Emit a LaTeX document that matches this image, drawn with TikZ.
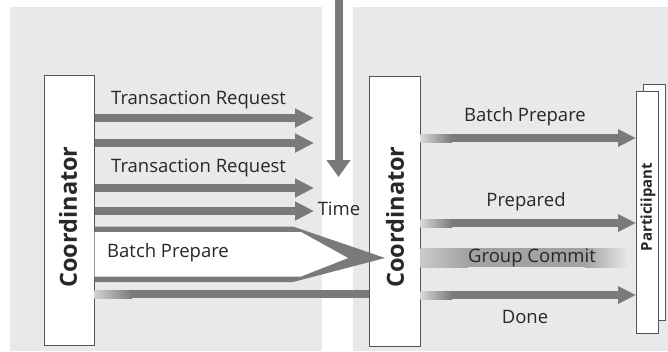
\documentclass[tikz,border=0pt]{standalone}
\usepackage{fontspec}
\setmainfont{Open Sans}
\usetikzlibrary{positioning}
\usetikzlibrary{arrows.meta}
\definecolor{panelgray}{RGB}{233,233,233}
\definecolor{arrowgray}{RGB}{122,122,122}
\definecolor{edgegray}{RGB}{85,85,85}
\definecolor{textgray}{RGB}{40,40,40}

\begin{document}
\begin{tikzpicture}[x=1pt,y=-1pt,
  box/.style={draw=edgegray, fill=white, line width=1pt, inner sep=0pt},
  boxtext/.style={rotate=90, text=textgray, font=\bfseries\fontsize{23.5}{26}\selectfont, inner sep=0pt},
  fatarrow/.style={draw=arrowgray, line width=8pt, -{Triangle[length=19pt,width=18pt]}},
  lbl/.style={text=textgray, font=\fontsize{18.5}{22}\selectfont, inner sep=0pt}]
\useasboundingbox (0,0) rectangle (668,351);

% two panels with a white gap
\fill[panelgray] (10,7) rectangle (322,351);
\fill[panelgray] (353,7) rectangle (668,351);

% Time arrow
\coordinate (timetop) at (338.5,0);
\coordinate (timetip) at (338.5,177);
\draw[draw=arrowgray, line width=8pt, -{Triangle[length=17pt,width=23pt]}] (timetop) -- (timetip);
\node[lbl] (time) at (339,209) {Time};

% boxes
\node[box, minimum width=50pt, minimum height=270pt] (coordL) at (69,210) {};
\node[box, minimum width=51pt, minimum height=270pt] (coordR) at (394.5,211) {};
\node[box, minimum width=22pt, minimum height=236pt] (partB) at (654,202) {};
\node[box, minimum width=22pt, minimum height=242pt] (partF) at (647,212) {};
\node[boxtext] (coordLtext) at (68,217) {Coordinator};
\node[boxtext] (coordRtext) at (395,217) {Coordinator};
\node[boxtext, font=\bfseries\fontsize{15}{17}\selectfont] (parttext) at (648,207) {Particiipant};

% transaction requests
\foreach \y/\n in {118/a,143/b,188/c,211/d}{
  \coordinate (req\n) at (314,\y);
  \draw[fatarrow] (coordL.east |- req\n) -- (req\n);
}
\node[lbl, anchor=west] (reqlabA) at (111,100) {Transaction Request};
\node[lbl, anchor=west] (reqlabB) at (111,168) {Transaction Request};

% batch prepare funnel
\coordinate (funneltip) at (385,258);
\fill[arrowgray] (coordL.east |- 0,226.5) -- (293,226.5) -- (funneltip) -- (293,282) -- (coordL.east |- 0,282) -- cycle;
\fill[white] (coordL.east |- 0,232) -- (301,232) -- (348,258) -- (301,276.5) -- (coordL.east |- 0,276.5) -- cycle;
\node[lbl, anchor=west] (batchL) at (107,253) {Batch Prepare};

% long bottom bar into the second coordinator
\shade[left color=arrowgray!35, right color=arrowgray] (coordL.east |- 0,290) rectangle (132,298);
\fill[arrowgray] (132,290) rectangle (coordR.west |- 0,298);

% messages to the participant
\foreach \y/\n in {138/prep,223/ack,295/done}{
  \coordinate (msg\n) at (partF.west |- 0,\y);
  \shade[left color=arrowgray!30, right color=arrowgray] (coordR.east |- 0,\y-4) rectangle (452,\y+4);
  \fill[arrowgray] (452,\y-4) rectangle (619,\y+4);
  \fill[arrowgray] (618,\y-9) -- (msg\n) -- (618,\y+9) -- cycle;
}
\node[lbl] (batchR) at (525,117) {Batch Prepare};
\node[lbl] (prepared) at (526,202) {Prepared};
\node[lbl] (done) at (525,317) {Done};

% group commit band
\shade[left color=arrowgray!40, right color=arrowgray!70] (coordR.east |- 0,248) rectangle (468,267);
\fill[arrowgray!70] (468,248) rectangle (585,267);
\shade[left color=arrowgray!70, right color=panelgray] (585,248) rectangle (628,267);
\node[lbl] (groupcommit) at (532,258) {Group Commit};

\end{tikzpicture}
\end{document}
